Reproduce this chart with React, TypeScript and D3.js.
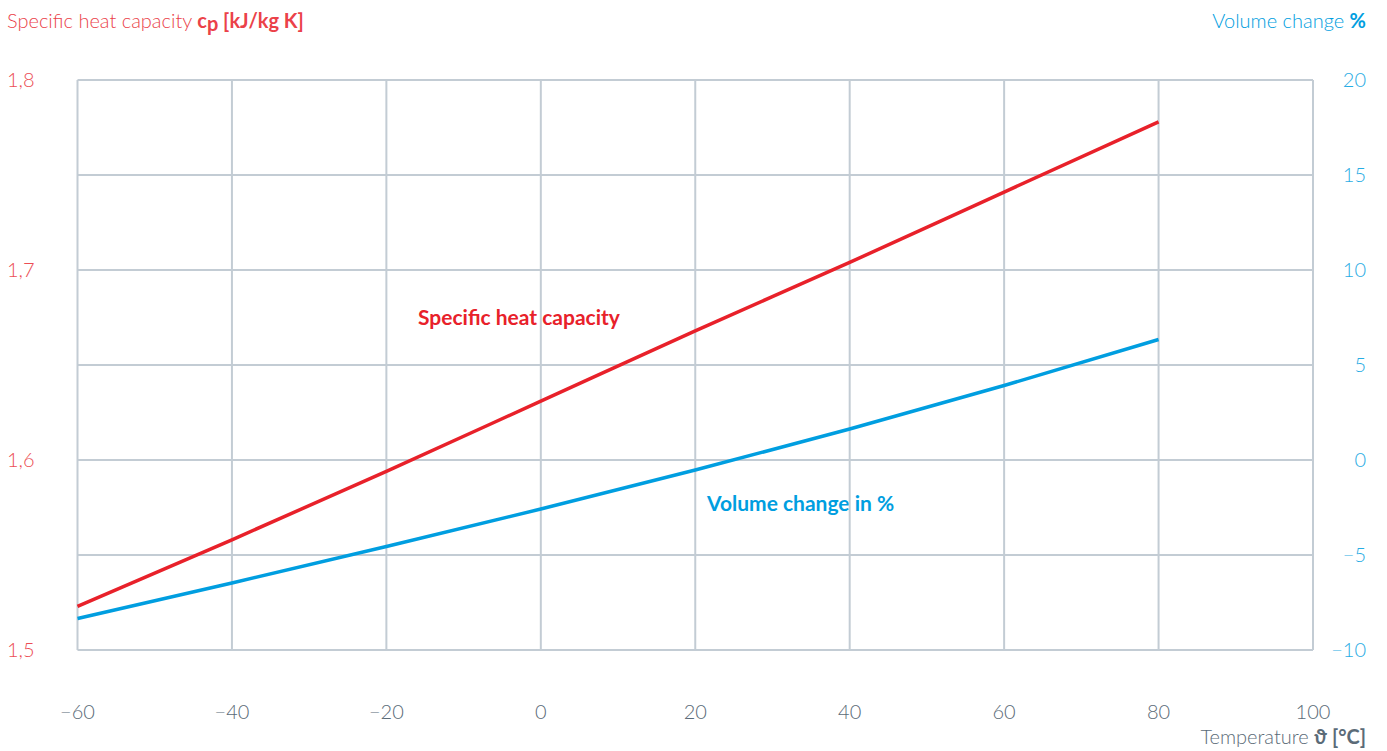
import React from "react";
import * as d3 from "d3";

const xTicks = [-60, -40, -20, 0, 20, 40, 60, 80, 100];
const leftTicks = [1.5, 1.6, 1.7, 1.8];
const leftGrid = [1.5, 1.55, 1.6, 1.65, 1.7, 1.75, 1.8];
const rightTicks = [-10, -5, 0, 5, 10, 15, 20];
const tempX = [-60, -40, -20, 0, 20, 40, 60, 80];
const heatCapacity = [1.523, 1.558, 1.594, 1.631, 1.668, 1.704, 1.741, 1.778];
const volumeChange = [-8.34, -6.47, -4.55, -2.58, -0.53, 1.63, 3.92, 6.34];

const W = 1387;
const H = 751;
const RED = "#e8212a";
const BLUE = "#009ee0";
const GRID = "#c3ccd4";
const FONT = "Lato, 'Open Sans', sans-serif";

export default function App() {
  const x = d3.scaleLinear().domain([-60, 100]).range([77.5, 1313]);
  const yL = d3.scaleLinear().domain([1.5, 1.8]).range([650, 80]);
  const yR = d3.scaleLinear().domain([-10, 20]).range([650, 80]);
  const lineL = d3
    .line<number>()
    .x((_, i) => x(tempX[i]))
    .y((d) => yL(d))
    .curve(d3.curveMonotoneX);
  const lineR = d3
    .line<number>()
    .x((_, i) => x(tempX[i]))
    .y((d) => yR(d))
    .curve(d3.curveMonotoneX);
  const fmt = (v: number) => v.toFixed(1).replace(".", ",");
  const minus = (v: number) => (v < 0 ? "\u2212" + Math.abs(v) : String(v));

  return (
    <svg
      width={W}
      height={H}
      style={{ position: "absolute", left: 0, top: 0, fontFamily: FONT }}
    >
      <rect width={W} height={H} fill="#fff" />
      <text x={7} y={28} fontSize={20} fill={RED} fontWeight={300} opacity={0.85}>
        Specific heat capacity{" "}
        <tspan fontWeight={700} fill={RED}>
          c
          <tspan dy={3}>p</tspan>
          <tspan dy={-3}> [kJ/kg K]</tspan>
        </tspan>
      </text>
      <text x={1366} y={28} fontSize={20} fill={BLUE} fontWeight={300} textAnchor="end">
        Volume change <tspan fontWeight={700}>%</tspan>
      </text>

      <text x={418} y={325} fontSize={21} fill={RED} fontWeight={700}>
        Specific heat capacity
      </text>
      <text x={707} y={511} fontSize={21} fill={BLUE} fontWeight={700}>
        Volume change in %
      </text>

      <g stroke={GRID} strokeWidth={2}>
        {leftGrid.map((v) => (
          <line key={"h" + v} x1={x(-60)} x2={x(100)} y1={yL(v)} y2={yL(v)} />
        ))}
        {xTicks.map((v) => (
          <line key={"v" + v} x1={x(v)} x2={x(v)} y1={yL(1.8)} y2={yL(1.5)} />
        ))}
      </g>

      {leftTicks.map((v) => (
        <text
          key={"l" + v}
          x={7}
          y={yL(v) + 7}
          fontSize={20}
          fill={RED}
          opacity={0.8}
          fontWeight={300}
        >
          {fmt(v)}
        </text>
      ))}
      {rightTicks.map((v) => (
        <text
          key={"r" + v}
          x={1366}
          y={yR(v) + 7}
          fontSize={20}
          fill={BLUE}
          opacity={0.85}
          fontWeight={300}
          textAnchor="end"
        >
          {minus(v)}
        </text>
      ))}
      {xTicks.map((v) => (
        <text
          key={"x" + v}
          x={x(v)}
          y={719}
          fontSize={20}
          fill="#5b6b78"
          fontWeight={300}
          textAnchor="middle"
        >
          {minus(v)}
        </text>
      ))}
      <text x={1366} y={744} fontSize={20} fill="#5b6b78" fontWeight={300} textAnchor="end">
        Temperature <tspan fontWeight={700}>ϑ [°C]</tspan>
      </text>

      <path d={lineR(volumeChange) || ""} fill="none" stroke={BLUE} strokeWidth={3.5} />
      <path d={lineL(heatCapacity) || ""} fill="none" stroke={RED} strokeWidth={3.5} />
    </svg>
  );
}
